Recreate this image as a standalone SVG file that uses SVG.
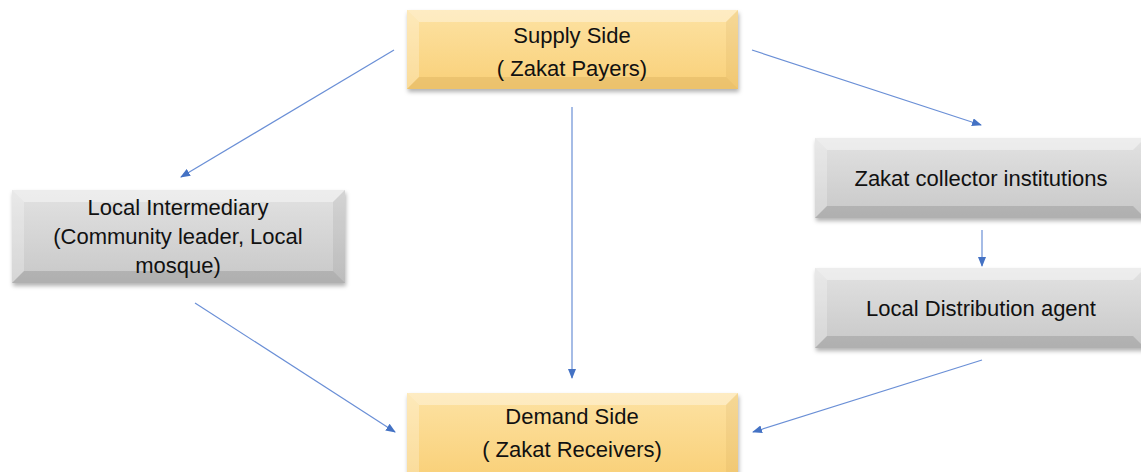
<svg xmlns="http://www.w3.org/2000/svg" width="1141" height="472" viewBox="0 0 1141 472">
<defs>
<style>
.t{font-family:"Liberation Sans",Arial,sans-serif;font-size:22px;fill:#111;text-anchor:middle}
.c{stroke:#6a8fd6;stroke-width:1.2;fill:none;marker-end:url(#ah)}
</style>
<marker id="ah" markerWidth="10" markerHeight="8" refX="9" refY="4" orient="auto" markerUnits="userSpaceOnUse"><path d="M0,0 L10,4 L0,8 Z" fill="#4472c4"/></marker>
<linearGradient id="gold" x1="0" y1="0" x2="0" y2="1"><stop offset="0" stop-color="#fde2a3"/><stop offset="1" stop-color="#f9d078"/></linearGradient>
<linearGradient id="grey" x1="0" y1="0" x2="0" y2="1"><stop offset="0" stop-color="#e2e2e2"/><stop offset="1" stop-color="#c8c8c8"/></linearGradient>
<filter id="sh" x="-5%" y="-10%" width="110%" height="130%"><feDropShadow dx="1" dy="3" stdDeviation="2" flood-color="#000" flood-opacity="0.3"/></filter>
</defs>
<g id="connectors">
<line class="c" x1="394" y1="50" x2="181" y2="177"/>
<line class="c" x1="572" y1="107" x2="572" y2="378"/>
<line class="c" x1="752" y1="50" x2="981" y2="125"/>
<line class="c" x1="982" y1="230" x2="982" y2="266"/>
<line class="c" x1="195" y1="303" x2="395" y2="432"/>
<line class="c" x1="982" y1="360" x2="753" y2="432"/>
</g>
<g id="supply">
<rect x="407" y="10" width="331" height="79" fill="url(#gold)" filter="url(#sh)"/>
<polygon points="407,10 738,10 726,22 419,22" fill="#fff" opacity="0.35"/>
<polygon points="407,10 419,22 419,77 407,89" fill="#fff" opacity="0.25"/>
<polygon points="738,10 738,89 726,77 726,22" fill="#b08030" opacity="0.1"/>
<polygon points="407,89 738,89 726,77 419,77" fill="#a07020" opacity="0.15"/>
<text class="t" x="572" y="43">Supply Side</text>
<text class="t" x="572" y="76">( Zakat Payers)</text>
</g>
<g id="intermediary">
<rect x="12" y="190" width="333" height="93" fill="url(#grey)" filter="url(#sh)"/>
<polygon points="12,190 345,190 333,202 24,202" fill="#fff" opacity="0.4"/>
<polygon points="12,190 24,202 24,271 12,283" fill="#fff" opacity="0.25"/>
<polygon points="345,190 345,283 333,271 333,202" fill="#555" opacity="0.1"/>
<polygon points="12,283 345,283 333,271 24,271" fill="#444" opacity="0.18"/>
<text class="t" x="178" y="215">Local Intermediary</text>
<text class="t" x="178" y="244">(Community leader, Local</text>
<text class="t" x="178" y="273">mosque)</text>
</g>
<g id="collector">
<rect x="815" y="138" width="330" height="80" fill="url(#grey)" filter="url(#sh)"/>
<polygon points="815,138 1145,138 1133,150 827,150" fill="#fff" opacity="0.4"/>
<polygon points="815,138 827,150 827,206 815,218" fill="#fff" opacity="0.25"/>
<polygon points="815,218 1145,218 1133,206 827,206" fill="#444" opacity="0.18"/>
<text class="t" x="981" y="186">Zakat collector institutions</text>
</g>
<g id="distribution">
<rect x="815" y="268" width="330" height="80" fill="url(#grey)" filter="url(#sh)"/>
<polygon points="815,268 1145,268 1133,280 827,280" fill="#fff" opacity="0.4"/>
<polygon points="815,268 827,280 827,336 815,348" fill="#fff" opacity="0.25"/>
<polygon points="815,348 1145,348 1133,336 827,336" fill="#444" opacity="0.18"/>
<text class="t" x="981" y="316">Local Distribution agent</text>
</g>
<g id="demand">
<rect x="407" y="393" width="331" height="85" fill="url(#gold)" filter="url(#sh)"/>
<polygon points="407,393 738,393 726,405 419,405" fill="#fff" opacity="0.35"/>
<polygon points="407,393 419,405 419,478 407,478" fill="#fff" opacity="0.25"/>
<polygon points="738,393 738,478 726,478 726,405" fill="#b08030" opacity="0.1"/>
<text class="t" x="572" y="424">Demand Side</text>
<text class="t" x="572" y="457">( Zakat Receivers)</text>
</g>
</svg>
